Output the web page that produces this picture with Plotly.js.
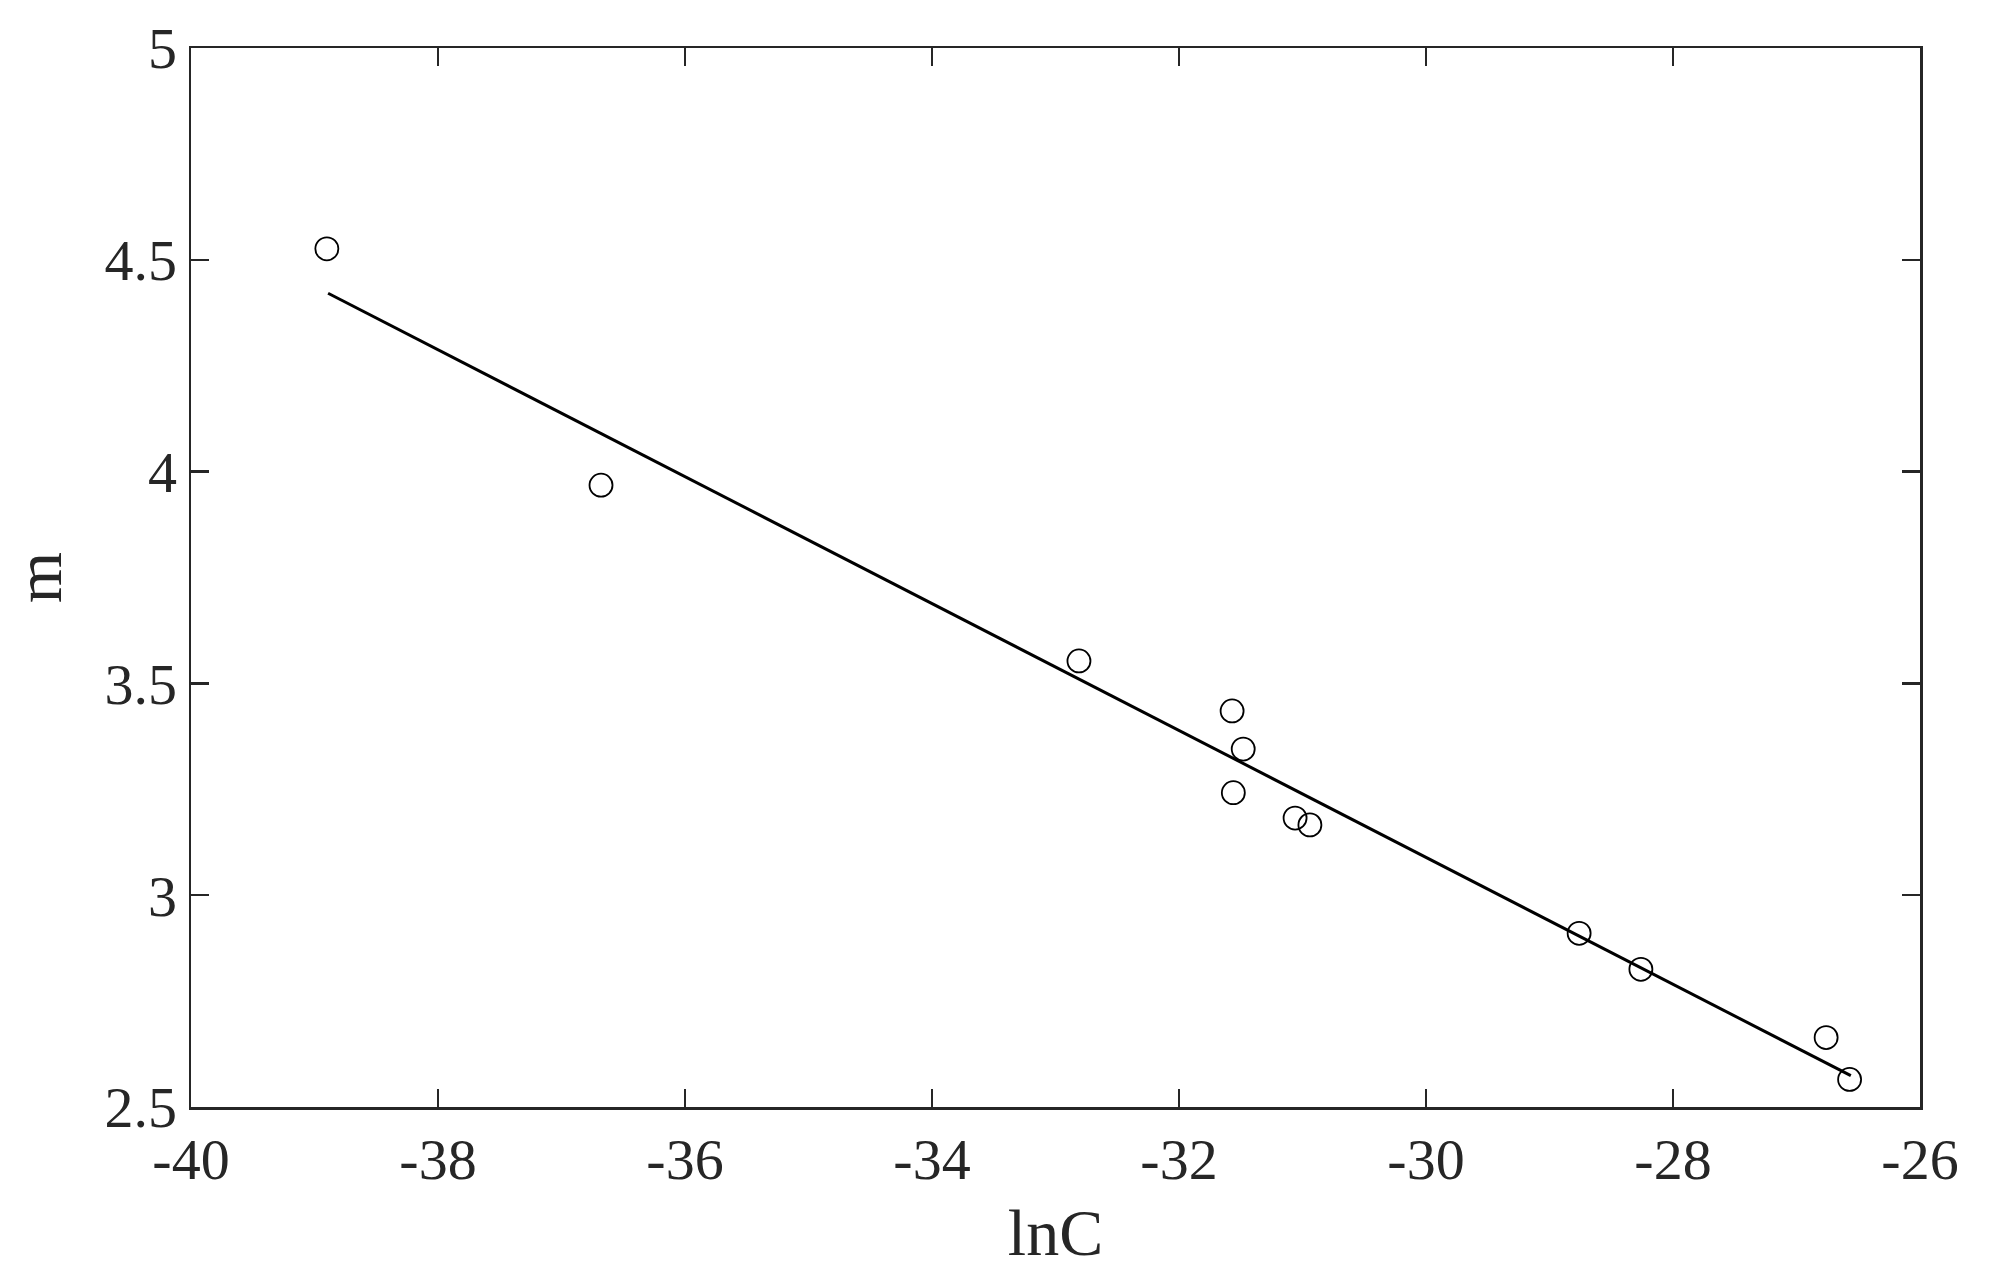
<!DOCTYPE html>
<html>
<head>
<meta charset="utf-8">
<script src="https://cdn.plot.ly/plotly-3.0.1.min.js"></script>
<style>html,body{margin:0;padding:0;background:#fff;}#chart{width:2016px;height:1279px;}</style>
</head>
<body>
<div id="chart"></div>
<script>
const lnC = [-38.90, -36.68, -32.81, -31.57, -31.48, -31.56, -31.06, -30.94, -28.76, -28.26, -26.76, -26.57];
const mVals = [4.526, 3.968, 3.553, 3.435, 3.345, 3.242, 3.182, 3.166, 2.910, 2.825, 2.664, 2.565];
const fitX = [-38.89, -26.56];
const fitY = [4.421, 2.574];
const xTickVals = [-40, -38, -36, -34, -32, -30, -28, -26];
const xTickText = ["-40", "-38", "-36", "-34", "-32", "-30", "-28", "-26"];
const yTickVals = [2.5, 3, 3.5, 4, 4.5, 5];
const yTickText = ["2.5", "3", "3.5", "4", "4.5", "5"];

const font = "'Palatino Linotype', 'Book Antiqua', Palatino, 'Liberation Serif', serif";
const axisCommon = {
  showline: true, mirror: 'ticks', linecolor: '#262626', linewidth: 2.5,
  ticks: 'inside', ticklen: 18, tickwidth: 2.5, tickcolor: '#262626',
  showgrid: false, zeroline: false,
  tickfont: {family: font, size: 58, color: '#262626'},
  tickmode: 'array'
};
const data = [
  {x: fitX, y: fitY, mode: 'lines', type: 'scatter', line: {color: '#000', width: 3}, showlegend: false},
  {x: lnC, y: mVals, mode: 'markers', type: 'scatter',
   marker: {symbol: 'circle-open', size: 23, color: '#000', line: {width: 1.8, color: '#000'}}, showlegend: false}
];
const layout = {
  width: 2016, height: 1279,
  margin: {l: 191, r: 96, t: 48, b: 172},
  paper_bgcolor: '#fff', plot_bgcolor: '#fff',
  xaxis: Object.assign({}, axisCommon, {
    range: [-40, -26], tickvals: xTickVals, ticktext: xTickText,
    title: {text: 'lnC', font: {family: font, size: 66, color: '#262626'}, standoff: 18}
  }),
  yaxis: Object.assign({}, axisCommon, {
    range: [2.5, 5], tickvals: yTickVals, ticktext: yTickText,
    title: {text: 'm', font: {family: font, size: 66, color: '#262626'}, standoff: 22}
  })
};
Plotly.newPlot('chart', data, layout, {displayModeBar: false, staticPlot: true});
</script>
</body>
</html>
